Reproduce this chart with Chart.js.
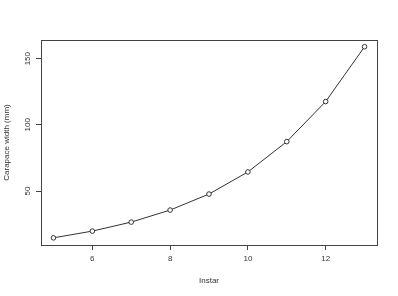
<!DOCTYPE html>
<html>
<head>
<meta charset="utf-8">
<script src="https://cdn.jsdelivr.net/npm/chart.js@4"></script>
<style>
  html, body { margin: 0; padding: 0; background: #fff; }
  #wrap { width: 398px; height: 296px; }
</style>
</head>
<body>
<div id="wrap"><canvas id="grafico"></canvas></div>
<script>
const instars = [5, 6, 7, 8, 9, 10, 11, 12, 13];
const widths = [14.6, 19.7, 26.5, 35.6, 47.7, 64.4, 87.3, 117.6, 159.0];
const xTicks = [6, 8, 10, 12];
const yTicks = [50, 100, 150];

const FONT = 'Liberation Sans, Arial, Helvetica, sans-serif';
const INK = '#333';

// R style box round the plot + rotated y tick labels
const boxPlugin = {
    id: 'rbox',
    afterDraw(chart) {
        const { ctx, chartArea: a } = chart;
        ctx.save();
        ctx.strokeStyle = '#444';
        ctx.lineWidth = 1;
        ctx.strokeRect(a.left + 0.5, a.top + 0.5, a.right - a.left, a.bottom - a.top);

        const ys = chart.scales.y;
        ctx.fillStyle = INK;
        ctx.font = '8px ' + FONT;
        ctx.textAlign = 'center';
        ctx.textBaseline = 'middle';
        ys.ticks.forEach(t => {
            const py = ys.getPixelForValue(t.value);
            ctx.save();
            ctx.translate(28, py);
            ctx.rotate(-Math.PI / 2);
            ctx.fillText(String(t.value), 0, 0);
            ctx.restore();
        });
        ctx.restore();
    }
};

const ctx = document.getElementById('grafico').getContext('2d');
new Chart(ctx, {
    type: 'scatter',
    data: {
        datasets: [{
            data: instars.map((x, i) => ({ x: x, y: widths[i] })),
            showLine: true,
            borderColor: '#333',
            borderWidth: 1,
            tension: 0,
            pointStyle: 'circle',
            pointRadius: 2.3,
            pointBorderWidth: 1,
            pointBorderColor: '#333',
            pointBackgroundColor: '#fff'
        }]
    },
    options: {
        responsive: true,
        maintainAspectRatio: false,
        animation: false,
        layout: { padding: { top: 40, right: 21, left: 0, bottom: 0 } },
        plugins: {
            legend: { display: false },
            tooltip: { enabled: false }
        },
        scales: {
            x: {
                type: 'linear',
                min: 4.68,
                max: 13.32,
                afterBuildTicks: s => { s.ticks = xTicks.map(v => ({ value: v })); },
                afterFit: s => { s.height = 51; },
                grid: { drawOnChartArea: false, drawTicks: true, tickLength: 5, color: '#444' },
                border: { display: false },
                ticks: { color: INK, font: { family: FONT, size: 8 }, padding: 4, maxRotation: 0 },
                title: { display: true, text: 'Instar', color: INK, font: { family: FONT, size: 8 }, padding: { top: 0, bottom: 10 } }
            },
            y: {
                min: 9.2,
                max: 164.1,
                afterBuildTicks: s => { s.ticks = yTicks.map(v => ({ value: v })); },
                afterFit: s => { s.width = 41; },
                grid: { drawOnChartArea: false, drawTicks: true, tickLength: 5, color: '#444' },
                border: { display: false },
                ticks: { display: false },
                title: { display: true, text: 'Carapace width (mm)', color: INK, font: { family: FONT, size: 8 }, padding: { top: 2, bottom: 0 } }
            }
        }
    },
    plugins: [boxPlugin]
});
</script>
</body>
</html>
